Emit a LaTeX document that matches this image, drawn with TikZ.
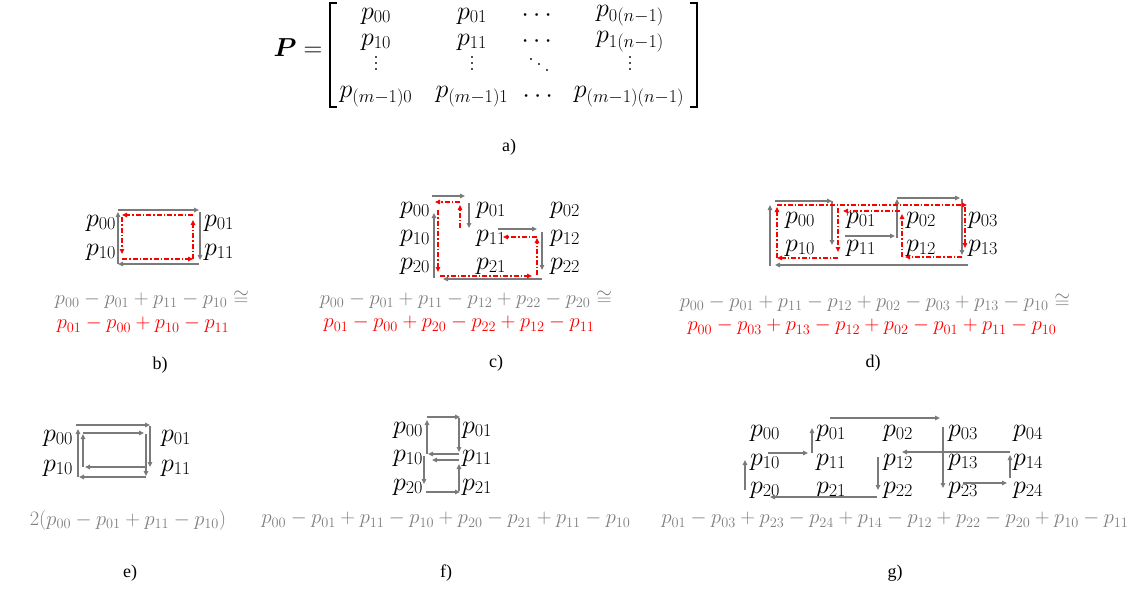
\RequirePackage{fix-cm}
\documentclass[tikz,border=0pt]{standalone}
\usepackage{amsmath,amssymb}
\usepackage{fontspec}
\newfontfamily\capfont{Liberation Serif}
\usetikzlibrary{arrows.meta}
\definecolor{arrgray}{RGB}{122,122,122}
\definecolor{eqgray}{RGB}{128,128,128}
\definecolor{lred}{RGB}{255,0,0}
\newcommand{\myvdots}{\vbox{\baselineskip6pt\lineskiplimit0pt\hbox{.}\hbox{.}\hbox{.}}}
\newcommand{\myddots}{\hbox{\raise11pt\hbox{.}\kern2pt\raise5.5pt\hbox{.}\kern2pt\hbox{.}}}
\tikzset{
  garr/.style={draw=arrgray, line width=1.6pt, -{Triangle[length=5pt,width=4.5pt]}},
  rarr/.style={draw=lred, line width=1.2pt, dash pattern=on 5pt off 2pt on 1.5pt off 2pt, -{Triangle[length=5pt,width=4.5pt]}},
  lab/.style={font=\fontsize{26}{30}\selectfont, inner sep=0pt},
  dts/.style={font=\fontsize{24}{28}\selectfont, inner sep=0pt, text height=6pt, text depth=6pt},
  eqg/.style={font=\fontsize{20.5}{24}\selectfont, text=eqgray, inner sep=0pt},
  eqr/.style={font=\fontsize{20.5}{24}\selectfont, text=lred, inner sep=0pt},
  capt/.style={font=\capfont\fontsize{18}{20}\selectfont, inner sep=0pt},
  brk/.style={draw=black, line width=1.6pt}
}
\begin{document}
\begin{tikzpicture}[x=1pt,y=-1pt]
\useasboundingbox (0,0) rectangle (1146,590);

% ---------- a) matrix ----------
\node[lab] (Peq) at (298,48) {$\boldsymbol{P} =$};
\draw[brk] (337,3) -- (330,3) -- (330,107) -- (337,107);
\draw[brk] (690,3) -- (697,3) -- (697,107) -- (690,107);
\node[lab] (m00) at (376,16) {$p_{00}$};
\node[lab] (m01) at (472,16) {$p_{01}$};
\node[lab] (m0c) at (539,16) {$\cdots$};
\node[lab] (m0n) at (630,16) {$p_{0(n-1)}$};
\node[lab] (m10) at (376,42) {$p_{10}$};
\node[lab] (m11) at (472,42) {$p_{11}$};
\node[lab] (m1c) at (539,42) {$\cdots$};
\node[lab] (m1n) at (630,42) {$p_{1(n-1)}$};
\node[dts] (mv0) at (376,70) {\myvdots};
\node[dts] (mv1) at (472,70) {\myvdots};
\node[dts] (mvd) at (539,71) {\myddots};
\node[dts] (mvn) at (630,70) {\myvdots};
\node[lab] (mm0) at (376,97) {$p_{(m-1)0}$};
\node[lab] (mm1) at (472,97) {$p_{(m-1)1}$};
\node[lab] (mmc) at (540,97) {$\cdots$};
\node[lab] (mmn) at (629,97) {$p_{(m-1)(n-1)}$};
\node[capt] (capa) at (509,147) {a)};

% ---------- b) ----------
\node[lab] (b00) at (101,223) {$p_{00}$};
\node[lab] (b10) at (101,252) {$p_{10}$};
\node[lab] (b01) at (219,223) {$p_{01}$};
\node[lab] (b11) at (219,252) {$p_{11}$};
\draw[garr] (118,210) -- (199,210);
\draw[garr] (200,212) -- (200,260);
\draw[garr] (199,264) -- (118,264);
\draw[garr] (118,264) -- (118,212);
\draw[rarr] (193,215) -- (122,215);
\draw[rarr] (122,217) -- (122,254);
\draw[rarr] (122,259) -- (193,259);
\draw[rarr] (193,259) -- (193,220);
\node[eqg] (beq1) at (152,300) {$p_{00}-p_{01}+p_{11}-p_{10}\cong$};
\node[eqr] (beq2) at (143,325) {$p_{01}-p_{00}+p_{10}-p_{11}$};
\node[capt] (capb) at (160,365) {b)};

% ---------- c) ----------
\node[lab] (c00) at (415,210) {$p_{00}$};
\node[lab] (c01) at (491,210) {$p_{01}$};
\node[lab] (c02) at (565,210) {$p_{02}$};
\node[lab] (c10) at (415,238) {$p_{10}$};
\node[lab] (c11) at (491,238) {$p_{11}$};
\node[lab] (c12) at (565,238) {$p_{12}$};
\node[lab] (c20) at (415,266) {$p_{20}$};
\node[lab] (c21) at (491,266) {$p_{21}$};
\node[lab] (c22) at (565,266) {$p_{22}$};
\draw[garr] (432,196) -- (465,196);
\draw[garr] (469,203) -- (469,228);
\draw[garr] (498,229) -- (537,229);
\draw[garr] (542,232) -- (542,270);
\draw[garr] (542,279) -- (443,279);
\draw[garr] (434,278) -- (434,213);
\draw[rarr] (460,202) -- (435,202);
\draw[rarr] (460,228) -- (460,205);
\draw[rarr] (438,210) -- (438,272);
\draw[rarr] (440,276) -- (532,276);
\draw[rarr] (537,275) -- (537,238);
\draw[rarr] (537,237) -- (503,237);
\node[eqg] (ceq1) at (466,300) {$p_{00}-p_{01}+p_{11}-p_{12}+p_{22}-p_{20}\cong$};
\node[eqr] (ceq2) at (459,324) {$p_{01}-p_{00}+p_{20}-p_{22}+p_{12}-p_{11}$};
\node[capt] (capc) at (496,363) {c)};

% ---------- d) ----------
\node[lab] (d00) at (800,220) {$p_{00}$};
\node[lab] (d01) at (861,220) {$p_{01}$};
\node[lab] (d02) at (921,220) {$p_{02}$};
\node[lab] (d03) at (983,220) {$p_{03}$};
\node[lab] (d10) at (800,248) {$p_{10}$};
\node[lab] (d11) at (861,248) {$p_{11}$};
\node[lab] (d12) at (921,248) {$p_{12}$};
\node[lab] (d13) at (983,248) {$p_{13}$};
\draw[garr] (770,266) -- (770,205);
\draw[garr] (775,201) -- (832,201);
\draw[garr] (832,201) -- (832,245);
\draw[garr] (845,236) -- (895,236);
\draw[garr] (897,238) -- (897,199);
\draw[garr] (897,198) -- (960,198);
\draw[garr] (962,199) -- (962,255);
\draw[garr] (968,265) -- (775,265);
\draw[rarr] (777,205) -- (967,205);
\draw[rarr] (965,207) -- (965,248);
\draw[rarr] (962,257) -- (905,257);
\draw[rarr] (902,257) -- (902,214);
\draw[rarr] (900,211) -- (843,211);
\draw[rarr] (838,208) -- (838,252);
\draw[rarr] (838,258) -- (777,258);
\draw[rarr] (777,258) -- (777,207);
\node[eqg] (deq1) at (875,303) {$p_{00}-p_{01}+p_{11}-p_{12}+p_{02}-p_{03}+p_{13}-p_{10}\cong$};
\node[eqr] (deq2) at (872,327) {$p_{00}-p_{03}+p_{13}-p_{12}+p_{02}-p_{01}+p_{11}-p_{10}$};
\node[capt] (capd) at (873,363) {d)};

% ---------- e) ----------
\node[lab] (e00) at (58,438) {$p_{00}$};
\node[lab] (e10) at (58,468) {$p_{10}$};
\node[lab] (e01) at (176,438) {$p_{01}$};
\node[lab] (e11) at (176,468) {$p_{11}$};
\draw[garr] (76,425) -- (150,425);
\draw[garr] (150,426) -- (150,467);
\draw[garr] (147,467) -- (85,467);
\draw[garr] (83,467) -- (83,434);
\draw[garr] (83,433) -- (144,433);
\draw[garr] (146,434) -- (146,476);
\draw[garr] (146,477) -- (79,477);
\draw[garr] (78,477) -- (78,429);
\node[eqg] (eeq) at (128,520) {$2(p_{00}-p_{01}+p_{11}-p_{10})$};
\node[capt] (cape) at (130,573) {e)};

% ---------- f) ----------
\node[lab] (f00) at (408,430) {$p_{00}$};
\node[lab] (f01) at (477,430) {$p_{01}$};
\node[lab] (f10) at (408,458) {$p_{10}$};
\node[lab] (f11) at (477,458) {$p_{11}$};
\node[lab] (f20) at (408,487) {$p_{20}$};
\node[lab] (f21) at (477,487) {$p_{21}$};
\draw[garr] (427,417) -- (460,417);
\draw[garr] (459,418) -- (459,452);
\draw[garr] (459,454) -- (428,454);
\draw[garr] (427,454) -- (427,420);
\draw[garr] (424,456) -- (424,484);
\draw[garr] (426,492) -- (460,492);
\draw[garr] (459,491) -- (459,464);
\draw[garr] (459,460) -- (432,460);
\node[eqg] (feq) at (446,520) {$p_{00}-p_{01}+p_{11}-p_{10}+p_{20}-p_{21}+p_{11}-p_{10}$};
\node[capt] (capf) at (446,573) {f)};

% ---------- g) ----------
\node[lab] (g00) at (765,433) {$p_{00}$};
\node[lab] (g01) at (831,433) {$p_{01}$};
\node[lab] (g02) at (898,433) {$p_{02}$};
\node[lab] (g03) at (963,433) {$p_{03}$};
\node[lab] (g04) at (1028,433) {$p_{04}$};
\node[lab] (g10) at (765,462) {$p_{10}$};
\node[lab] (g11) at (831,462) {$p_{11}$};
\node[lab] (g12) at (898,462) {$p_{12}$};
\node[lab] (g13) at (963,462) {$p_{13}$};
\node[lab] (g14) at (1028,462) {$p_{14}$};
\node[lab] (g20) at (765,490) {$p_{20}$};
\node[lab] (g21) at (831,490) {$p_{21}$};
\node[lab] (g22) at (898,490) {$p_{22}$};
\node[lab] (g23) at (963,490) {$p_{23}$};
\node[lab] (g24) at (1028,490) {$p_{24}$};
\draw[garr] (830,418) -- (940,418);
\draw[garr] (943,427) -- (943,488);
\draw[garr] (963,483) -- (1007,483);
\draw[garr] (1010,478) -- (1010,455);
\draw[garr] (1010,452) -- (902,452);
\draw[garr] (878,457) -- (878,490);
\draw[garr] (877,497) -- (770,497);
\draw[garr] (745,490) -- (745,460);
\draw[garr] (768,453) -- (808,453);
\draw[garr] (812,453) -- (812,428);
\node[eqg] (geq) at (895,520) {$p_{01}-p_{03}+p_{23}-p_{24}+p_{14}-p_{12}+p_{22}-p_{20}+p_{10}-p_{11}$};
\node[capt] (capg) at (895,573) {g)};
\end{tikzpicture}
\end{document}
